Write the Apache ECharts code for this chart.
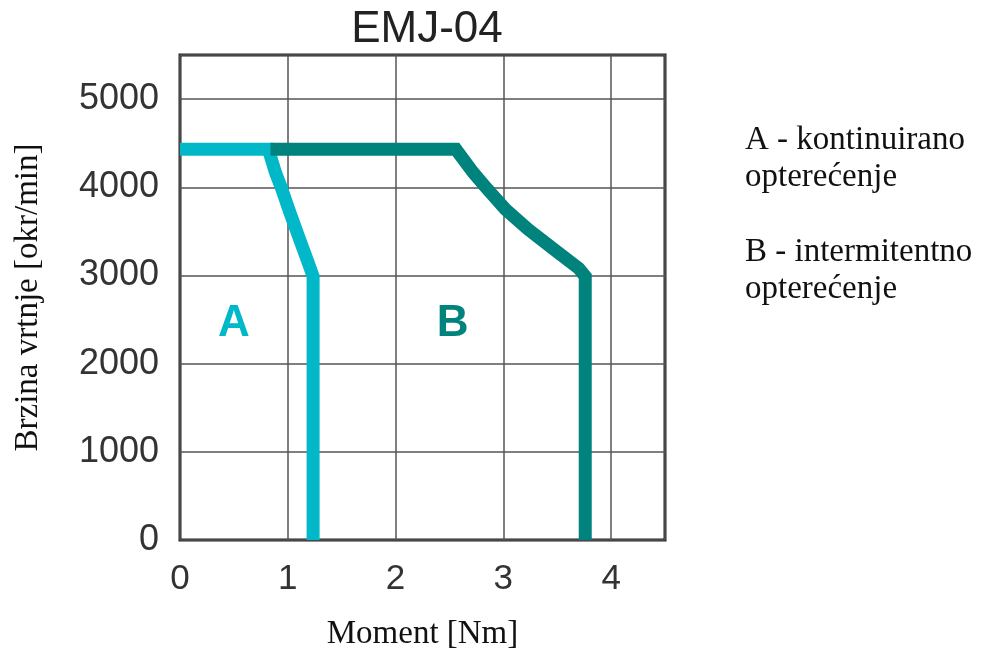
<!DOCTYPE html>
<html>
<head>
<meta charset="utf-8">
<script src="https://cdn.jsdelivr.net/npm/echarts@6/dist/echarts.min.js"></script>
<style>html,body{margin:0;padding:0;background:#fff;}#c{width:984px;height:650px;}</style>
</head>
<body>
<div id="c"></div>
<script>
var chartTitle = 'EMJ-04';
var xTicks = [0, 1, 2, 3, 4];
var yTicks = [0, 1000, 2000, 3000, 4000, 5000];
var torqueA = [0, 0.82, 0.886, 0.94, 1.02, 1.11, 1.19, 1.235, 1.235];
var speedA  = [4430, 4430, 4167, 3996, 3712, 3409, 3144, 2990, 0];
var torqueB = [0.84, 2.56, 2.72, 2.84, 3.02, 3.23, 3.47, 3.70, 3.76, 3.76];
var speedB  = [4430, 4430, 4167, 3996, 3750, 3523, 3295, 3080, 2990, 0];
var regionLabels = ['A', 'B'];
var regionLabelPos = [[0.5, 2450], [2.53, 2450]];
var legendLines = ['A - kontinuirano', 'opterećenje', 'B - intermitentno', 'opterećenje'];

function pairs(xs, ys) { return xs.map(function (x, i) { return [x, ys[i]]; }); }

var chart = echarts.init(document.getElementById('c'));
var serif = '"Liberation Serif", "Times New Roman", serif';
var sans = '"Liberation Sans", Arial, sans-serif';
var colA = '#00B8C7', colB = '#00827D';
function regionMark(i, col) {
  return { symbol: 'circle', symbolSize: 1, itemStyle: { color: 'rgba(0,0,0,0)' },
    label: { show: true, position: 'inside', formatter: regionLabels[i], fontFamily: sans, fontWeight: 'bold', fontSize: 44, color: col },
    data: [{ coord: regionLabelPos[i] }] };
}
chart.setOption({
  animation: false,
  backgroundColor: '#fff',
  title: {
    text: chartTitle, left: 422, top: 3, textAlign: 'center',
    textStyle: { fontFamily: sans, fontSize: 44, fontWeight: 'normal', color: '#222' }
  },
  grid: { left: 180, right: 319, top: 55, bottom: 110, outerBoundsMode: 'none', containLabel: false,
    show: true, borderColor: '#222', borderWidth: 3, backgroundColor: 'transparent' },
  xAxis: {
    type: 'value', min: 0, max: 4.5, interval: 1,
    name: 'Moment [Nm]', nameLocation: 'middle', nameGap: 78,
    nameTextStyle: { fontFamily: serif, fontSize: 33, color: '#111' },
    axisLine: { show: false }, axisTick: { show: false },
    axisLabel: { fontFamily: sans, fontSize: 35, color: '#333', margin: 22,
      formatter: function (v) { return xTicks.indexOf(v) >= 0 ? String(v) : ''; } },
    splitLine: { show: true, lineStyle: { color: '#555', width: 1.5 } }
  },
  yAxis: {
    type: 'value', min: 0, max: 5500, interval: 1000,
    name: 'Brzina vrtnje [okr/min]', nameLocation: 'middle', nameGap: 135,
    nameTextStyle: { fontFamily: serif, fontSize: 33, color: '#111' },
    axisLine: { show: false }, axisTick: { show: false },
    axisLabel: { fontFamily: sans, fontSize: 36, color: '#333', margin: 21,
      formatter: function (v) { return yTicks.indexOf(v) >= 0 ? String(v) : ''; } },
    splitLine: { show: true, lineStyle: { color: '#555', width: 1.5 } }
  },
  series: [
    { name: 'A', type: 'line', data: pairs(torqueA, speedA), showSymbol: false, symbol: 'none',
      lineStyle: { color: colA, width: 13, join: 'miter', cap: 'butt' }, z: 3,
      markPoint: regionMark(0, colA) },
    { name: 'B', type: 'line', data: pairs(torqueB, speedB), showSymbol: false, symbol: 'none',
      lineStyle: { color: colB, width: 13, join: 'miter', cap: 'butt' }, z: 4,
      markPoint: regionMark(1, colB) }
  ],
  graphic: legendLines.map(function (t, i) {
    var ys = [143, 180, 255, 292];
    return { type: 'text', left: 745, top: ys[i] - 19,
      style: { text: t, fontFamily: serif, fontSize: 33, fill: '#111' } };
  })
});
</script>
</body>
</html>
